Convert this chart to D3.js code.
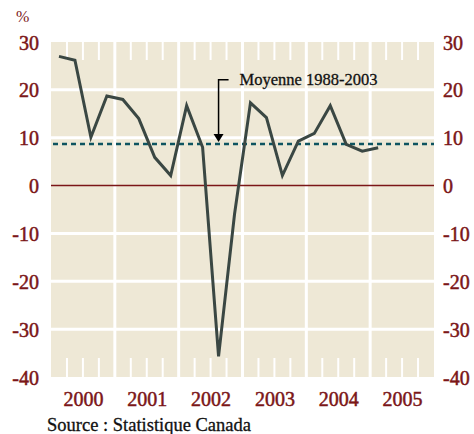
<!DOCTYPE html>
<html>
<head>
<meta charset="utf-8">
<script src="https://cdn.jsdelivr.net/npm/d3@7"></script>
<style>
  body { margin: 0; background: #fff; }
  svg text { font-family: "Liberation Serif", "DejaVu Serif", serif; }
</style>
</head>
<body>
<div id="chart-container"></div>
<script>
const years = ["2000", "2001", "2002", "2003", "2004", "2005"];
const quarters = [
  "2000Q1", "2000Q2", "2000Q3", "2000Q4",
  "2001Q1", "2001Q2", "2001Q3", "2001Q4",
  "2002Q1", "2002Q2", "2002Q3", "2002Q4",
  "2003Q1", "2003Q2", "2003Q3", "2003Q4",
  "2004Q1", "2004Q2", "2004Q3", "2004Q4",
  "2005Q1",
];
const values = [
  27.0, 26.2, 10.1, 18.7,
  18.0, 14.0, 5.9, 2.1,
  16.7, 8.0, -35.7, -6.0,
  17.3, 14.2, 2.1, 9.3,
  10.9, 16.7, 8.6, 7.2,
  7.9,
];
const yTicks = [30, 20, 10, 0, -10, -20, -30, -40];
const average = 8.7;
const averageLabel = "Moyenne 1988-2003";
const unitLabel = "%";
const sourceLabel = "Source : Statistique Canada";

function lineChart() {
  const W = 474, H = 434;
  const margin = { top: 42, right: 40, bottom: 57, left: 51 };
  const width = W - margin.left - margin.right;
  const height = H - margin.top - margin.bottom;

  const red = "#7b1618";
  const svg = d3
    .select("#chart-container")
    .append("svg")
    .attr("width", W)
    .attr("height", H);

  const g = svg.append("g").attr("transform", `translate(${margin.left},${margin.top})`);

  // quarter index scale: 24 quarters over 6 years
  const x = d3.scaleLinear().domain([0, years.length * 4]).range([0, width]);
  const y = d3.scaleLinear().domain([-40, 30]).range([height, 0]);

  g.append("rect")
    .attr("width", width)
    .attr("height", height)
    .attr("fill", "#eee8d6");

  // horizontal grid
  g.selectAll(".hgrid")
    .data(yTicks.filter((d) => d !== 30 && d !== -40 && d !== 0))
    .join("line")
    .attr("x1", 0)
    .attr("x2", width)
    .attr("y1", (d) => y(d))
    .attr("y2", (d) => y(d))
    .attr("stroke", "#fff")
    .attr("stroke-width", 3);

  // year gridlines
  g.selectAll(".vgrid")
    .data(d3.range(1, years.length))
    .join("line")
    .attr("x1", (d) => x(d * 4))
    .attr("x2", (d) => x(d * 4))
    .attr("y1", 0)
    .attr("y2", height)
    .attr("stroke", "#fff")
    .attr("stroke-width", 3);

  // quarter ticks at top and bottom
  const qt = d3.range(0, years.length * 4).filter((d) => d % 4 !== 0);
  [[0, 18], [height - 19, height]].forEach(([a, b]) => {
    g.append("g")
      .selectAll("line")
      .data(qt)
      .join("line")
      .attr("x1", (d) => x(d))
      .attr("x2", (d) => x(d))
      .attr("y1", a)
      .attr("y2", b)
      .attr("stroke", "#fff")
      .attr("stroke-width", 2);
  });

  // zero line
  g.append("line")
    .attr("x1", 0)
    .attr("x2", width)
    .attr("y1", y(0))
    .attr("y2", y(0))
    .attr("stroke", red)
    .attr("stroke-width", 1.5);

  // average dashed line
  g.append("line")
    .attr("x1", 2)
    .attr("x2", width)
    .attr("y1", y(average))
    .attr("y2", y(average))
    .attr("stroke", "#0e5460")
    .attr("stroke-width", 2.5)
    .attr("stroke-dasharray", "5,4");

  const fmt = (d) => String(d);

  // y axes on both sides
  const yAxisL = g.append("g").call(d3.axisLeft(y).tickValues(yTicks).tickFormat(fmt).tickSize(0).tickPadding(12));
  const yAxisR = g
    .append("g")
    .attr("transform", `translate(${width},0)`)
    .call(d3.axisRight(y).tickValues(yTicks).tickFormat(fmt).tickSize(0).tickPadding(9));
  [yAxisL, yAxisR].forEach((a) => {
    a.select(".domain").remove();
    a.selectAll("text")
      .attr("fill", red)
      .attr("stroke", red)
      .attr("stroke-width", 0.5)
      .attr("dy", "0.35em")
      .style("font-size", "20px")
      .style("font-family", '"Liberation Serif", serif');
  });

  // year labels
  const xAxis = g
    .append("g")
    .attr("transform", `translate(0,${height})`)
    .call(
      d3
        .axisBottom(x)
        .tickValues(years.map((d, i) => i * 4 + 2))
        .tickFormat((d) => years[(d - 2) / 4])
        .tickSize(0)
        .tickPadding(15),
    );
  xAxis.select(".domain").remove();
  xAxis.selectAll("text")
    .attr("fill", red)
    .attr("stroke", red)
    .attr("stroke-width", 0.5)
    .style("font-size", "20px")
    .style("font-family", '"Liberation Serif", serif');

  // data line
  const line = d3
    .line()
    .x((d, i) => x(i + 0.5))
    .y((d) => y(d));

  g.append("path")
    .datum(values)
    .attr("fill", "none")
    .attr("stroke", "#3a4743")
    .attr("stroke-width", 3)
    .attr("stroke-linejoin", "miter")
    .attr("d", line);

  // annotation
  const ax = x(10.5);
  const aTop = y(22.1);
  g.append("path")
    .attr("d", `M${ax + 10},${aTop}H${ax}V${y(average) - 10}`)
    .attr("fill", "none")
    .attr("stroke", "#000")
    .attr("stroke-width", 1.5);
  g.append("path")
    .attr("d", `M${ax - 5},${y(average) - 10}L${ax + 5},${y(average) - 10}L${ax},${y(average) - 2}Z`)
    .attr("fill", "#000");
  g.append("text")
    .attr("x", ax + 21)
    .attr("y", aTop + 5)
    .attr("fill", "#111")
    .attr("stroke", "#111")
    .attr("stroke-width", 0.3)
    .style("font-size", "16.5px")
    .text(averageLabel);

  svg.append("text")
    .attr("x", 16)
    .attr("y", 22)
    .attr("fill", red)
    .style("font-size", "16px")
    .text(unitLabel);

  svg.append("text")
    .attr("x", 47)
    .attr("y", 431)
    .attr("fill", "#111")
    .attr("stroke", "#111")
    .attr("stroke-width", 0.3)
    .style("font-size", "18.5px")
    .text(sourceLabel);
}

lineChart();
</script>
</body>
</html>
